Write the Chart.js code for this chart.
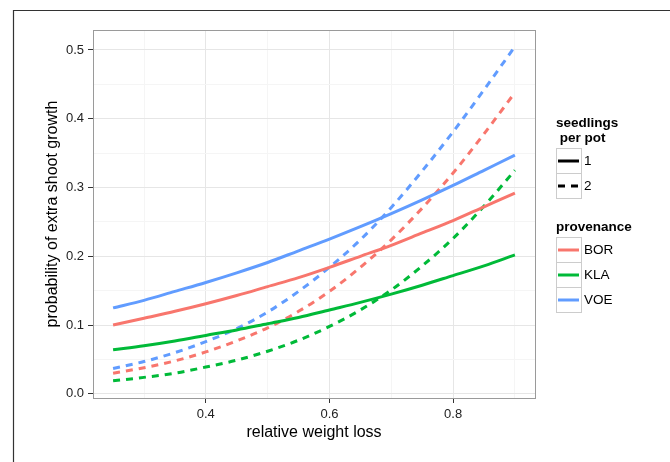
<!DOCTYPE html>
<html>
<head>
<meta charset="utf-8">
<title>probability of extra shoot growth</title>
<script src="https://cdn.jsdelivr.net/npm/chart.js@4.4.0/dist/chart.umd.min.js"></script>
<style>
  html, body { margin: 0; padding: 0; background: #fff; }
</style>
</head>
<body>
<canvas id="chart" width="670" height="462"></canvas>
<script>
// Values, one list per curve
const weightLoss = [0.25, 0.30, 0.35, 0.40, 0.45, 0.50, 0.55, 0.60, 0.65, 0.70, 0.75, 0.80, 0.85, 0.90];

// one seedling per pot (solid)
const borOne = [0.100, 0.110, 0.120, 0.131, 0.143, 0.156, 0.169, 0.184, 0.200, 0.216, 0.234, 0.252, 0.272, 0.292];
const klaOne = [0.064, 0.070, 0.077, 0.085, 0.093, 0.102, 0.111, 0.122, 0.133, 0.145, 0.158, 0.172, 0.186, 0.202];
const voeOne = [0.125, 0.136, 0.149, 0.162, 0.176, 0.191, 0.208, 0.225, 0.243, 0.262, 0.282, 0.303, 0.325, 0.347];

// two seedlings per pot (dashed)
const borTwo = [0.030, 0.038, 0.048, 0.061, 0.077, 0.096, 0.120, 0.149, 0.184, 0.224, 0.270, 0.321, 0.378, 0.438];
const klaTwo = [0.019, 0.024, 0.030, 0.039, 0.049, 0.062, 0.078, 0.098, 0.122, 0.151, 0.186, 0.226, 0.273, 0.325];
const voeTwo = [0.037, 0.047, 0.060, 0.076, 0.095, 0.119, 0.149, 0.184, 0.224, 0.271, 0.324, 0.381, 0.442, 0.505];

const provenances = ['BOR', 'KLA', 'VOE'];
const provenanceColors = ['#F8766D', '#00BA38', '#619CFF'];
const seedlings = ['1', '2'];

// axis grid / tick values
const xGrid = [0.3, 0.4, 0.5, 0.6, 0.7, 0.8, 0.9];
const xMajor = [0.4, 0.6, 0.8];
const yGrid = [0, 0.05, 0.1, 0.15, 0.2, 0.25, 0.3, 0.35, 0.4, 0.45, 0.5];
const yMajor = [0, 0.1, 0.2, 0.3, 0.4, 0.5];

const DASH = [7, 6];
const FONT = "'Liberation Sans', Arial, Helvetica, sans-serif";

function inList(list, v) {
    return list.some(m => Math.abs(m - v) < 1e-9);
}

const curves = [
    { prov: 0, seed: 0, values: borOne },
    { prov: 1, seed: 0, values: klaOne },
    { prov: 2, seed: 0, values: voeOne },
    { prov: 0, seed: 1, values: borTwo },
    { prov: 1, seed: 1, values: klaTwo },
    { prov: 2, seed: 1, values: voeTwo }
];

const datasets = curves.map(c => ({
    label: provenances[c.prov] + ' ' + seedlings[c.seed],
    data: weightLoss.map((x, i) => ({ x: x, y: c.values[i] })),
    borderColor: provenanceColors[c.prov],
    borderWidth: 3,
    borderDash: c.seed === 1 ? DASH : [],
    borderCapStyle: 'butt',
    pointRadius: 0,
    fill: false,
    cubicInterpolationMode: 'monotone'
}));

// outer frame, panel border and the two-part legend
const figureExtras = {
    id: 'figureExtras',
    beforeDraw(chart) {
        const ctx = chart.ctx;
        ctx.save();
        ctx.fillStyle = '#fff';
        ctx.fillRect(0, 0, chart.width, chart.height);
        ctx.restore();
    },
    afterDraw(chart) {
        const ctx = chart.ctx;
        const a = chart.chartArea;
        ctx.save();

        // panel border
        ctx.strokeStyle = '#9a9a9a';
        ctx.lineWidth = 1;
        ctx.strokeRect(Math.round(a.left) + 0.5, Math.round(a.top) + 0.5,
            Math.round(a.right - a.left), Math.round(a.bottom - a.top));

        // figure frame
        ctx.strokeStyle = '#333';
        ctx.lineWidth = 1.2;
        ctx.beginPath();
        ctx.moveTo(13.5, chart.height);
        ctx.lineTo(13.5, 10.5);
        ctx.lineTo(chart.width, 10.5);
        ctx.stroke();

        const lx = 556, kw = 25, kh = 25;
        ctx.fillStyle = '#000';
        ctx.textAlign = 'left';
        ctx.textBaseline = 'middle';

        // seedlings per pot
        ctx.font = 'bold 13.5px ' + FONT;
        ctx.fillText('seedlings', lx, 123);
        ctx.fillText(' per pot', lx, 138);
        seedlings.forEach((s, i) => {
            const top = 148 + i * kh;
            ctx.strokeStyle = '#cccccc';
            ctx.lineWidth = 1;
            ctx.setLineDash([]);
            ctx.strokeRect(lx + 0.5, top + 0.5, kw, kh);
            ctx.strokeStyle = '#000';
            ctx.lineWidth = 3;
            ctx.lineCap = 'butt';
            ctx.setLineDash(i === 1 ? DASH : []);
            ctx.beginPath();
            ctx.moveTo(lx + 2, top + kh / 2 + 0.5);
            ctx.lineTo(lx + kw - 2, top + kh / 2 + 0.5);
            ctx.stroke();
            ctx.setLineDash([]);
            ctx.font = '13.5px ' + FONT;
            ctx.fillText(s, lx + kw + 3, top + kh / 2 + 1);
        });

        // provenance
        ctx.font = 'bold 13.5px ' + FONT;
        ctx.fillText('provenance', lx, 227);
        provenances.forEach((p, i) => {
            const top = 237 + i * kh;
            ctx.strokeStyle = '#cccccc';
            ctx.lineWidth = 1;
            ctx.strokeRect(lx + 0.5, top + 0.5, kw, kh);
            ctx.strokeStyle = provenanceColors[i];
            ctx.lineWidth = 3;
            ctx.beginPath();
            ctx.moveTo(lx + 2, top + kh / 2 + 0.5);
            ctx.lineTo(lx + kw - 2, top + kh / 2 + 0.5);
            ctx.stroke();
            ctx.font = '13.5px ' + FONT;
            ctx.fillText(p, lx + kw + 3, top + kh / 2 + 1);
        });

        ctx.restore();
    }
};

Chart.defaults.font.family = FONT;

new Chart(document.getElementById('chart'), {
    type: 'line',
    data: { datasets: datasets },
    options: {
        responsive: false,
        animation: false,
        layout: { padding: { left: 43, right: 135, top: 30, bottom: 0 } },
        plugins: {
            legend: { display: false },
            tooltip: { enabled: false }
        },
        scales: {
            x: {
                type: 'linear',
                min: 0.2175,
                max: 0.9325,
                afterBuildTicks: scale => { scale.ticks = xGrid.map(v => ({ value: v })); },
                afterFit: scale => { scale.height = 64; },
                border: { display: false },
                grid: {
                    color: c => inList(xMajor, c.tick.value) ? '#e6e6e6' : '#f5f5f5',
                    tickColor: c => inList(xMajor, c.tick.value) ? '#333' : 'rgba(0,0,0,0)',
                    tickLength: 5,
                    lineWidth: 1
                },
                ticks: {
                    autoSkip: false,
                    maxRotation: 0,
                    padding: 4,
                    color: '#222',
                    font: { size: 13 },
                    callback: v => inList(xMajor, v) ? v.toFixed(1) : ''
                },
                title: {
                    display: true,
                    text: 'relative weight loss',
                    color: '#000',
                    font: { size: 16 },
                    padding: { top: 0, bottom: 20 }
                }
            },
            y: {
                type: 'linear',
                min: -0.006,
                max: 0.529,
                afterBuildTicks: scale => { scale.ticks = yGrid.map(v => ({ value: v })); },
                afterFit: scale => { scale.width = 50; },
                border: { display: false },
                grid: {
                    color: c => inList(yMajor, c.tick.value) ? '#e6e6e6' : '#f5f5f5',
                    tickColor: c => inList(yMajor, c.tick.value) ? '#333' : 'rgba(0,0,0,0)',
                    tickLength: 5,
                    lineWidth: 1
                },
                ticks: {
                    autoSkip: false,
                    padding: 4,
                    color: '#222',
                    font: { size: 13 },
                    callback: v => inList(yMajor, v) ? v.toFixed(1) : ''
                },
                title: {
                    display: true,
                    text: 'probability of extra shoot growth',
                    color: '#000',
                    font: { size: 16 },
                    padding: { top: 0, bottom: 0 }
                }
            }
        }
    },
    plugins: [figureExtras]
});
</script>
</body>
</html>
